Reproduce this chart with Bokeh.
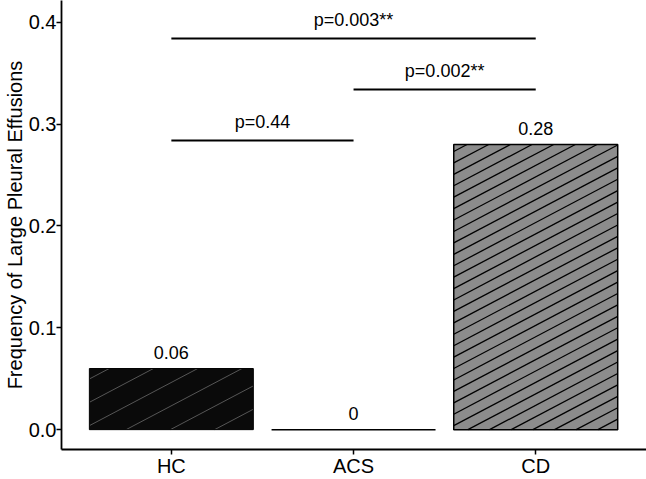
import math
from bokeh.plotting import figure
from bokeh.models import ColumnDataSource, FixedTicker, Range1d
from bokeh.core.properties import value
from bokeh.embed import file_html
from bokeh.resources import INLINE

# ---- data ----
categories = ["HC", "ACS", "CD"]
frequencies = [0.06, 0.0, 0.28]
bar_labels = ["0.06", "0", "0.28"]

cmp_from = ["HC", "ACS", "HC"]
cmp_to = ["ACS", "CD", "CD"]
cmp_height = [0.284, 0.334, 0.384]
cmp_labels = ["p=0.44", "p=0.002**", "p=0.003**"]

y_ticks = [0.0, 0.1, 0.2, 0.3, 0.4]

FONT = "Liberation Sans"
W, H = 646, 479
X0, X1 = 0.397, 3.608
Y0, Y1 = -0.0195, 0.4214
BAR_W = 0.9

xpos = [categories.index(c) + 1 for c in categories]

p = figure(width=W, height=H, output_backend="svg", toolbar_location=None,
           x_range=Range1d(X0, X1), y_range=Range1d(Y0, Y1),
           min_border_left=58, min_border_right=0, min_border_top=0,
           min_border_bottom=0)
p.outline_line_color = None
p.xgrid.visible = False
p.ygrid.visible = False
p.background_fill_color = "white"

# approximate frame size in px (for hatch line angle / spacing)
FW, FH = W - 60, H - 27
px_x = FW / (X1 - X0)
px_y = FH / (Y1 - Y0)


def hatch(xc, top, spacing, slope=0.53, phase=0.0):
    """Diagonal hatch segments inside a bar, computed from the bar's own values."""
    bw = BAR_W * px_x
    bh = top * px_y
    out = ([], [], [], [])
    if bh <= 0:
        return out
    kmin = math.floor((-slope * bw) / spacing) - 1
    kmax = math.ceil(bh / spacing) + 1
    for k in range(kmin, kmax + 1):
        c = k * spacing + phase
        u0 = max(0.0, -c / slope)
        u1 = min(bw, (bh - c) / slope)
        if u1 - u0 > 0.5:
            v0 = slope * u0 + c
            v1 = slope * u1 + c
            out[0].append(xc - BAR_W / 2 + u0 / px_x)
            out[1].append(v0 / px_y)
            out[2].append(xc - BAR_W / 2 + u1 / px_x)
            out[3].append(v1 / px_y)
    return out


bar_fill = ["#0a0a0a", "#ffffff", "#8c8c8c"]
hatch_color = ["#6a6a6a", "#000000", "#000000"]
hatch_width = [0.8, 1.2, 1.3]
hatch_spacing = [23.5, 11.5, 11.5]
outline_width = [1.0, 1.5, 1.5]

bars = ColumnDataSource(dict(x=xpos, top=frequencies, fill=bar_fill, lw=outline_width))
p.vbar(x="x", top="top", bottom=0, width=BAR_W, source=bars,
       fill_color="fill", line_color=None)

for i in range(len(categories)):
    hx0, hy0, hx1, hy1 = hatch(xpos[i], frequencies[i], hatch_spacing[i], phase=4.0)
    if hx0:
        p.segment(x0=hx0, y0=hy0, x1=hx1, y1=hy1, line_color=hatch_color[i],
                  line_width=hatch_width[i])

p.vbar(x="x", top="top", bottom=0, width=BAR_W, source=bars,
       fill_color=None, line_color="#000000", line_width="lw")

# bar value labels
lab_src = ColumnDataSource(dict(x=xpos, y=[f + 0.016 for f in frequencies], t=bar_labels))
p.text(x="x", y="y", text="t", source=lab_src, text_align="center",
       text_baseline="middle", text_font=value(FONT), text_font_size="18px",
       text_color="#000000")

# comparison brackets
bx0 = [categories.index(c) + 1 for c in cmp_from]
bx1 = [categories.index(c) + 1 for c in cmp_to]
br_src = ColumnDataSource(dict(x0=bx0, x1=bx1, y=cmp_height,
                               xm=[(a + b) / 2 for a, b in zip(bx0, bx1)],
                               ty=[h + 0.018 for h in cmp_height],
                               t=cmp_labels))
p.segment(x0="x0", y0="y", x1="x1", y1="y", source=br_src,
          line_color="#000000", line_width=2)
p.text(x="xm", y="ty", text="t", source=br_src, text_align="center",
       text_baseline="middle", text_font=value(FONT), text_font_size="18px",
       text_color="#000000")

# axes
p.xaxis.ticker = FixedTicker(ticks=xpos)
p.xaxis.major_label_overrides = {x: c for x, c in zip(xpos, categories)}
p.yaxis.ticker = FixedTicker(ticks=y_ticks)
p.yaxis.major_label_overrides = {t: f"{t:.1f}" for t in y_ticks}
p.yaxis.axis_label = "Frequency of Large Pleural Effusions"

for ax in (p.xaxis[0], p.yaxis[0]):
    ax.axis_line_color = "#000000"
    ax.axis_line_width = 1.8
    ax.major_tick_line_color = "#000000"
    ax.major_tick_line_width = 1.5
    ax.major_tick_out = 5
    ax.major_tick_in = 0
    ax.minor_tick_line_color = None
    ax.major_label_text_font = FONT
    ax.major_label_text_font_size = "20px"
    ax.major_label_text_color = "#000000"
    ax.major_label_standoff = 0

p.yaxis.axis_label_text_font = FONT
p.yaxis.axis_label_text_font_size = "20px"
p.yaxis.axis_label_text_font_style = "normal"
p.yaxis.axis_label_text_color = "#000000"
p.yaxis.axis_label_standoff = 0

open("out.html", "w").write(file_html(p, INLINE))
